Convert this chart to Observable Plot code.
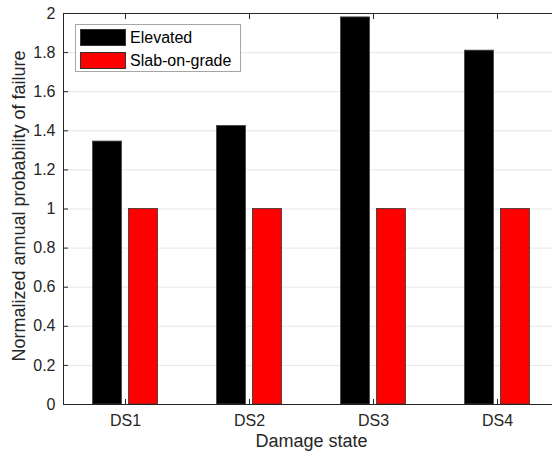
<!DOCTYPE html>
<html><head>
<meta charset="utf-8">
<script src="https://cdn.jsdelivr.net/npm/d3@7"></script>
<script src="https://cdn.jsdelivr.net/npm/@observablehq/plot@0.6"></script>
<style>
body{margin:0;background:#fff}
#wrap{position:relative;width:552px;height:454px;overflow:hidden;font-family:"Liberation Sans",Arial,sans-serif}
#legend{position:absolute;left:75px;top:24px;width:166px;height:48px;border:1px solid #a6a6a6;background:#fff;box-sizing:border-box}
.item{position:absolute;left:4px;height:17px;display:flex;align-items:center;font-size:16px;color:#000}
.sw{width:46px;height:17px;box-sizing:border-box;border:1px solid #333;margin-right:4px}
</style>
</head><body><div id="wrap"></div>
<script>
const categories = ["DS1", "DS2", "DS3", "DS4"];
const seriesNames = ["Elevated", "Slab-on-grade"];
const elevated = [1.345, 1.425, 1.98, 1.81];
const slabOnGrade = [1, 1, 1, 1];
const seriesColors = ["#000000", "#ff0000"];
const yTicks = [0, 0.2, 0.4, 0.6, 0.8, 1, 1.2, 1.4, 1.6, 1.8, 2];
const yLabels = ["0", "0.2", "0.4", "0.6", "0.8", "1", "1.2", "1.4", "1.6", "1.8", "2"];

const elevData = categories.map((c, i) => ({cat: c, value: elevated[i]}));
const slabData = categories.map((c, i) => ({cat: c, value: slabOnGrade[i]}));

const chart = Plot.plot({
  width: 552,
  height: 454,
  marginLeft: 63,
  marginRight: -7,
  marginTop: 13,
  marginBottom: 50,
  style: {fontFamily: "'Liberation Sans', Arial, sans-serif", fontSize: "16px", color: "#262626", background: "white"},
  x: {domain: categories, padding: 0},
  y: {domain: [0, 2]},
  marks: [
    Plot.gridY(yTicks, {stroke: "#e6e6e6", strokeOpacity: 1}),
    Plot.barY(elevData, {x: "cat", y: "value", fill: seriesColors[0], stroke: "#444", strokeWidth: 0.8, insetLeft: 47.5, insetRight: 47.5, dx: -18}),
    Plot.barY(slabData, {x: "cat", y: "value", fill: seriesColors[1], stroke: "#333", strokeWidth: 0.8, insetLeft: 47.5, insetRight: 47.5, dx: 18}),
    Plot.frame({stroke: "#262626"}),
    Plot.axisX({anchor: "bottom", tickSize: -5, tickPadding: 15, label: null, fontSize: 16, stroke: "#262626"}),
    Plot.axisX({anchor: "top", tickSize: -5, text: null, label: null, stroke: "#262626"}),
    Plot.axisY({ticks: yTicks, tickFormat: (d) => yLabels[yTicks.indexOf(d)], tickSize: -5, tickPadding: 13, label: null, fontSize: 16, stroke: "#262626"}),
    Plot.text(["Damage state"], {frameAnchor: "bottom", dy: 37, fontSize: 18, fill: "#262626", lineAnchor: "middle", textAnchor: "middle"}),
    Plot.text(["Normalized annual probability of failure"], {frameAnchor: "left", rotate: -90, dx: -44, dy: -3, fontSize: 18, fill: "#262626", lineAnchor: "middle", textAnchor: "middle"})
  ]
});
const wrap = document.getElementById("wrap");
wrap.appendChild(chart);

const legend = document.createElement("div");
legend.id = "legend";
seriesNames.forEach((name, i) => {
  const item = document.createElement("div");
  item.className = "item";
  item.style.top = (i === 0 ? 4 : 27) + "px";
  const sw = document.createElement("div");
  sw.className = "sw";
  sw.style.background = seriesColors[i];
  const t = document.createElement("span");
  t.textContent = name;
  item.appendChild(sw);
  item.appendChild(t);
  legend.appendChild(item);
});
wrap.appendChild(legend);
</script>
</body></html>
